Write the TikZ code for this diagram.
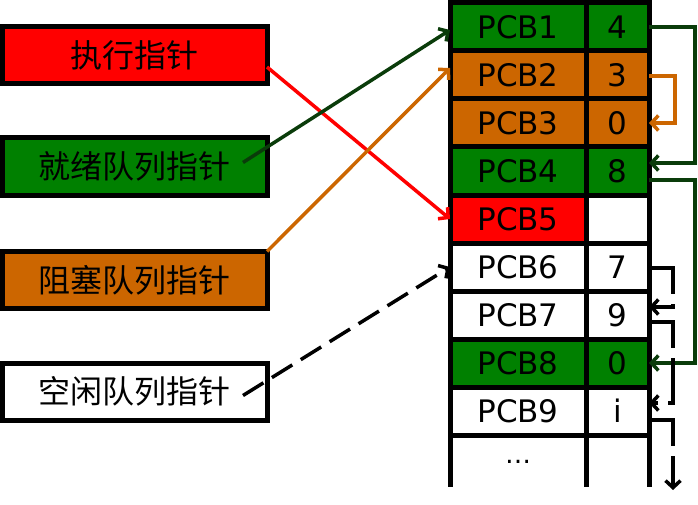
\documentclass[tikz,border=0pt]{standalone}
\usepackage{fontspec}
\usetikzlibrary{arrows.meta}
\newfontfamily\cjkfont{Noto Sans CJK SC}
\newfontfamily\pcbfont{DejaVu Sans}

\definecolor{runred}{RGB}{255,0,0}
\definecolor{readygreen}{RGB}{0,128,0}
\definecolor{blockorange}{RGB}{204,102,0}
\definecolor{linkgreen}{RGB}{10,60,10}

\tikzset{
  ptrbox/.style={draw, line width=5pt, minimum width=265pt, minimum height=57pt,
    inner sep=0pt, outer sep=0pt, font=\cjkfont\fontsize{32}{32}\selectfont},
  namecell/.style={draw, line width=5pt, minimum width=136pt, minimum height=48pt,
    inner sep=0pt, outer sep=0pt, font=\pcbfont\fontsize{31}{31}\selectfont},
  nextcell/.style={namecell, minimum width=63pt},
  link/.style={line width=3.5pt, -{Straight Barb[length=7pt,width=15pt]}},
  freelink/.style={link, black, dash pattern=on 24pt off 10pt},
  freenext/.style={link, black, dash pattern=on 50pt off 10pt}
}

\begin{document}
\begin{tikzpicture}[x=1pt,y=-1pt]
\useasboundingbox (0,0) rectangle (698,505);

% pointers
\node[ptrbox, fill=runred] (run) at (134.5,55) {执行指针};
\node[ptrbox, fill=readygreen] (ready) at (134.5,166.5) {就绪队列指针};
\node[ptrbox, fill=blockorange] (block) at (134.5,280) {阻塞队列指针};
\node[ptrbox, fill=white] (free) at (134.5,391.5) {空闲队列指针};

% PCB table
\node[namecell, fill=readygreen] (p1) at (518,27) {PCB1};
\node[nextcell, fill=readygreen] (n1) at (617.5,27) {4};
\node[namecell, fill=blockorange] (p2) at (518,75) {PCB2};
\node[nextcell, fill=blockorange] (n2) at (617.5,75) {3};
\node[namecell, fill=blockorange] (p3) at (518,123) {PCB3};
\node[nextcell, fill=blockorange] (n3) at (617.5,123) {0};
\node[namecell, fill=readygreen] (p4) at (518,171) {PCB4};
\node[nextcell, fill=readygreen] (n4) at (617.5,171) {8};
\node[namecell, fill=runred] (p5) at (518,219) {PCB5};
\node[nextcell, fill=white] (n5) at (617.5,219) {};
\node[namecell, fill=white] (p6) at (518,267) {PCB6};
\node[nextcell, fill=white] (n6) at (617.5,267) {7};
\node[namecell, fill=white] (p7) at (518,315) {PCB7};
\node[nextcell, fill=white] (n7) at (617.5,315) {9};
\node[namecell, fill=readygreen] (p8) at (518,363) {PCB8};
\node[nextcell, fill=readygreen] (n8) at (617.5,363) {0};
\node[namecell, fill=white] (p9) at (518,411) {PCB9};
\node[nextcell, fill=white] (n9) at (617.5,411) {i};

% open last row
\draw[line width=5pt] (p9.south west) -- ++(0,52);
\draw[line width=5pt] (p9.south east) -- ++(0,52);
\draw[line width=5pt] (n9.south east) -- ++(0,52);
\node[font=\pcbfont\fontsize{26}{26}\selectfont] (more) at (518,462) {…};

% pointers into the table
\draw[link, runred] ([yshift=-12pt]run.east) -- (p5.west);
\draw[link, linkgreen] ([xshift=-24pt,yshift=4pt]ready.east) -- ([yshift=-3pt]p1.west);
\draw[link, blockorange] (block.north east) -- ([yshift=7pt]p2.west);
\draw[freelink] ([xshift=-24pt,yshift=-4pt]free.east) -- (p6.west);

% next links
\draw[link, linkgreen] (n1.east) -- ++(46,0) |- ([yshift=8pt]n4.east);
\draw[link, blockorange] ([yshift=-1pt]n2.east) -- ++(26,0) |- (n3.east);
\draw[link, linkgreen] ([yshift=-9pt]n4.east) -- ++(46,0) |- (n8.east);
\draw[freenext] ([yshift=-1pt]n6.east) -- ++(24,0) |- ([yshift=8pt]n7.east);
\draw[freenext] ([yshift=-7pt]n7.east) -- ++(24,0) |- ([yshift=8pt]n9.east);
\draw[freenext] ([yshift=-9pt]n9.east) -- ++(24,0) -- ++(0,70);
\end{tikzpicture}
\end{document}
